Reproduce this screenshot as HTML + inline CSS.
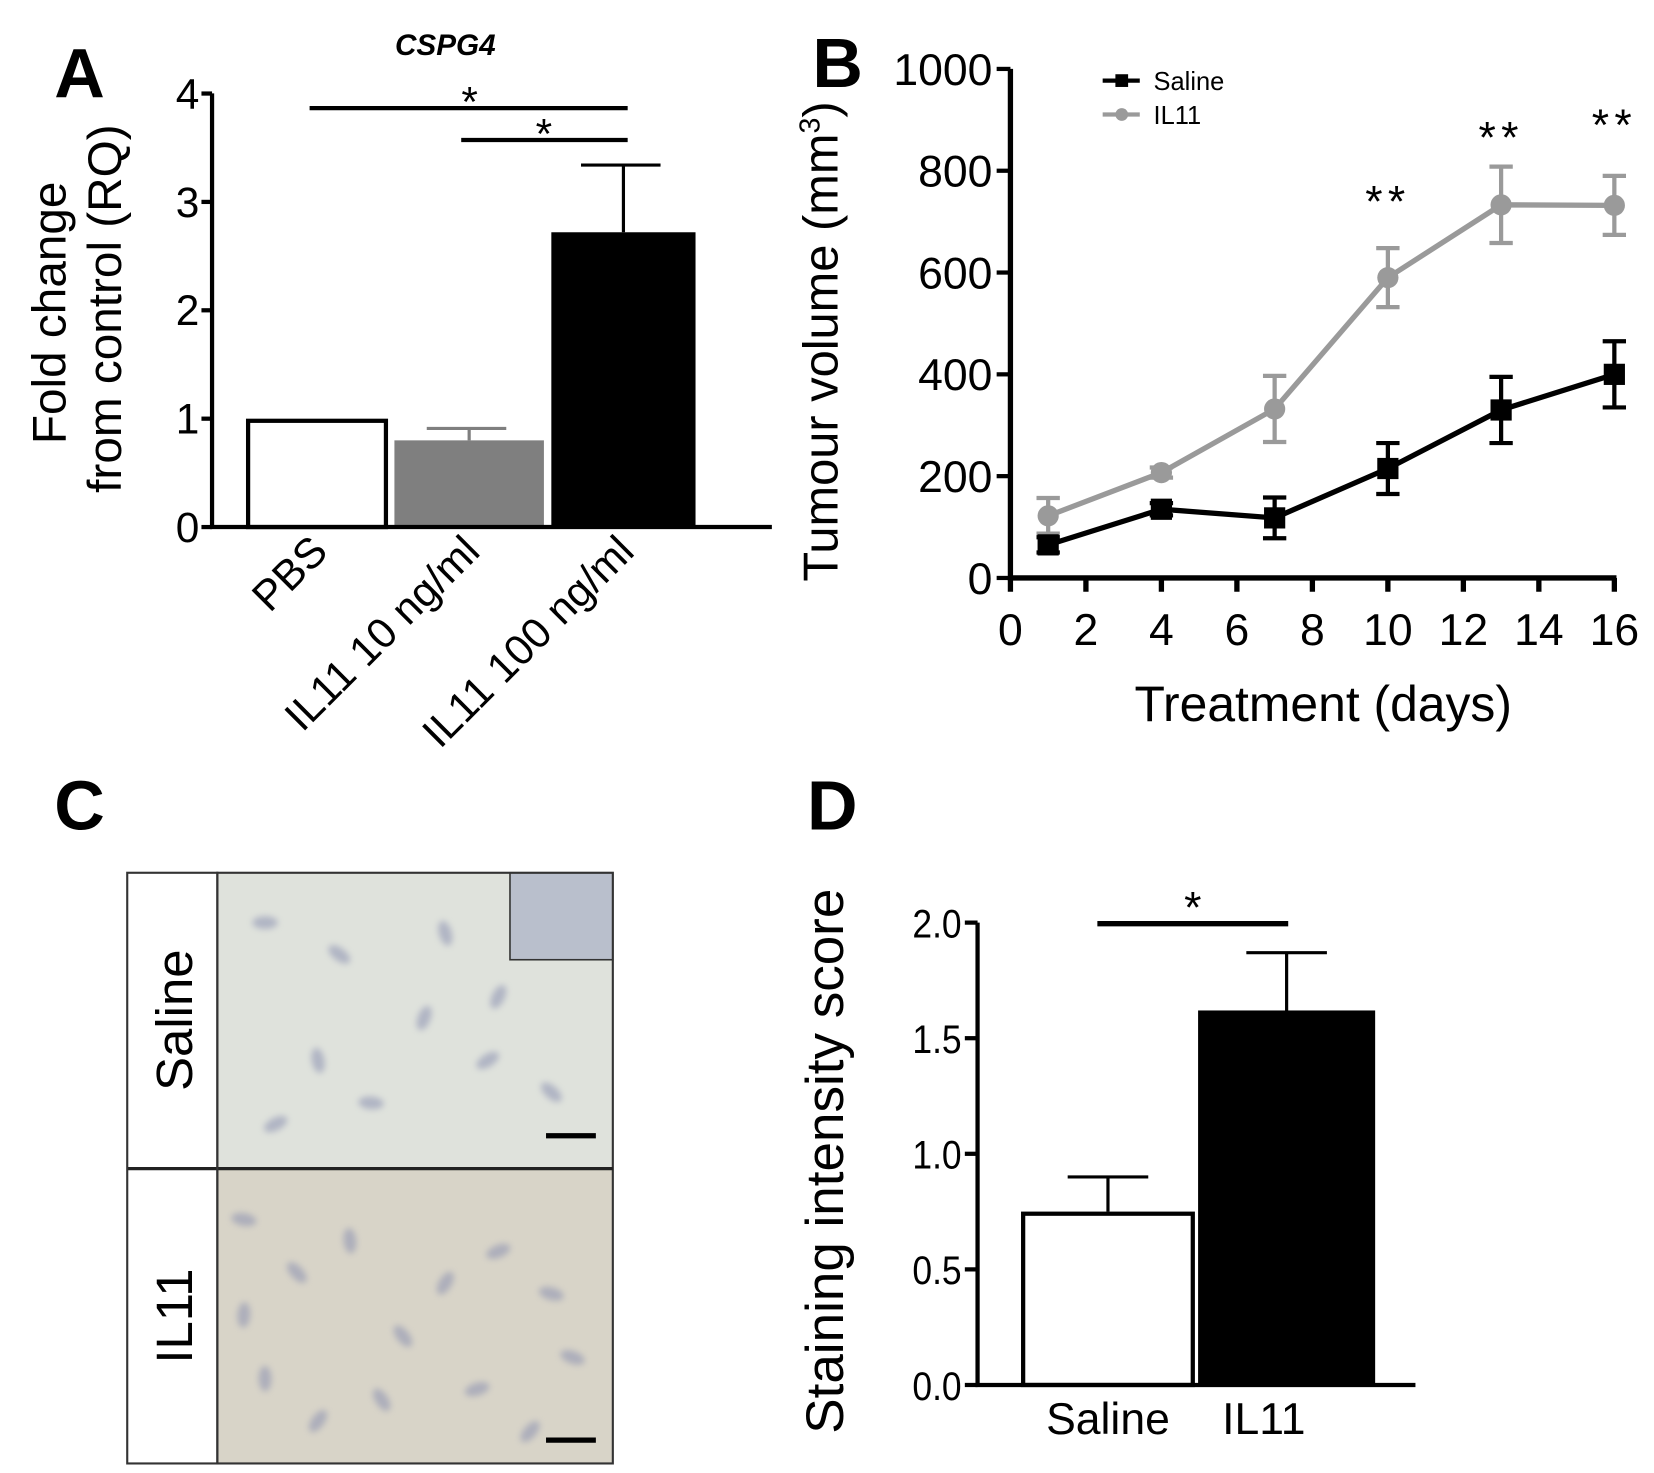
<!DOCTYPE html>
<html><head><meta charset="utf-8">
<style>
html,body{margin:0;padding:0;background:#fff;}
svg{display:block;font-family:"Liberation Sans",Arial,sans-serif;}
</style></head>
<body>
<svg id="fig" width="1654" height="1473" viewBox="0 0 1560 1389" preserveAspectRatio="none">
<defs>
<filter id="blur1"><feGaussianBlur stdDeviation="3"/></filter>
</defs>
<g id="panelA"></g>
<g id="panelB"></g>
<g id="panelC"></g>
<g id="panelD"></g>
</svg>
<script>
// Panel A data
const aCategories = ["PBS", "IL11 10 ng/ml", "IL11 100 ng/ml"];
const aValues = [1.0, 0.80, 2.72];
const aErrors = [0, 0.11, 0.62];
const aTicks = [0, 1, 2, 3, 4];
// Panel B data
const bDays = [1, 4, 7, 10, 13, 16];
const bSaline = [65, 135, 118, 215, 330, 400];
const bSalineErr = [15, 12, 40, 50, 65, 65];
const bIL11 = [122, 207, 332, 590, 733, 732];
const bIL11Err = [35, 10, 65, 58, 75, 58];
const bYTicks = [0, 200, 400, 600, 800, 1000];
const bXTicks = [0, 2, 4, 6, 8, 10, 12, 14, 16];
const bStarDays = [10, 13, 16];
const bStarY = [180, 120, 108];
// Panel D data
const dCategories = ["Saline", "IL11"];
const dValues = [0.75, 1.62];
const dErrors = [0.15, 0.25];
const dTicks = ["0.0", "0.5", "1.0", "1.5", "2.0"];

const NS = "http://www.w3.org/2000/svg";
function mk(parent, tag, attrs, text) {
  const e = document.createElementNS(NS, tag);
  for (const k in attrs) e.setAttribute(k, attrs[k]);
  if (text !== undefined) e.textContent = text;
  parent.appendChild(e);
  return e;
}

// ---------- Panel A ----------
(function(){
  const g = document.getElementById('panelA');
  const y = v => 497 - v * 102.2;
  let t;
  t = mk(g, 'text', {x: 75, y: 92, 'font-size': 66, 'font-weight': 'bold', 'text-anchor': 'middle'}, 'A');
   
  t = mk(g, 'text', {x: 420, y: 52, 'font-size': 28, 'font-weight': 'bold', 'font-style': 'italic', 'text-anchor': 'middle'}, 'CSPG4');
   
  t = mk(g, 'text', {transform: 'translate(62,295) rotate(-90)', 'font-size': 45, 'text-anchor': 'middle'}, 'Fold change');
   
  t = mk(g, 'text', {transform: 'translate(114,291) rotate(-90)', 'font-size': 45, 'text-anchor': 'middle'}, 'from control (RQ)');
   
  const barX = [232, 372, 520], barW = [134, 141, 136];
  const fills = ['#fff', '#7f7f7f', '#000'];
  aValues.forEach((v, i) => {
    const top = y(v);
    const r = mk(g, 'rect', {x: barX[i] + (i===0?2:0), y: top + (i===0?2:0), width: barW[i] - (i===0?4:0), height: 497 - top - (i===0?2:0), fill: fills[i], stroke: i===0?'#000':'none', 'stroke-width': 4});
     
    if (aErrors[i] > 0) {
      const cx = barX[i] + barW[i] / 2, ey = y(v + aErrors[i]);
      const col = i === 1 ? '#7f7f7f' : '#000';
      const e = mk(g, 'path', {d: `M${cx},${top} V${ey} M${cx-40},${ey} H${cx+35}`, stroke: col, 'stroke-width': 3, fill: 'none'});
       
    }
    const lx = barX[i] + barW[i] / 2 + 12;
    const lab = mk(g, 'text', {transform: `translate(${lx},522) rotate(-45)`, 'font-size': 40, 'text-anchor': 'end'}, aCategories[i]);
     
  });
  const ax = mk(g, 'path', {d: 'M200,88 V497 H728', stroke: '#000', 'stroke-width': 4, fill: 'none'});
   
  aTicks.forEach(v => {
    mk(g, 'line', {x1: 190, x2: 200, y1: y(v), y2: y(v), stroke: '#000', 'stroke-width': 4});
    const tl = mk(g, 'text', {x: 188, y: y(v) + 14, 'font-size': 40, 'text-anchor': 'end'}, String(v));
     
  });
  const s1 = mk(g, 'path', {d: 'M292,102 H592 M435,132 H592', stroke: '#000', 'stroke-width': 4});
   
  t = mk(g, 'text', {x: 443, y: 110, 'font-size': 40, 'text-anchor': 'middle'}, '*');
   
  t = mk(g, 'text', {x: 513, y: 140, 'font-size': 40, 'text-anchor': 'middle'}, '*');
   
})();

// ---------- Panel B ----------
(function(){
  const g = document.getElementById('panelB');
  const x = d => 953 + d * 35.6;
  const y = v => 545 - v * 0.48;
  let t;
  t = mk(g, 'text', {x: 790, y: 82, 'font-size': 66, 'font-weight': 'bold', 'text-anchor': 'middle'}, 'B');
   
  t = mk(g, 'text', {transform: 'translate(790,322) rotate(-90)', 'font-size': 46, 'text-anchor': 'middle'});
   
  t.innerHTML = 'Tumour volume (mm<tspan dy="-17" font-size="27">3</tspan><tspan dy="17">)</tspan>';
  t = mk(g, 'text', {x: 1248, y: 680, 'font-size': 47, 'text-anchor': 'middle'}, 'Treatment (days)');
   
  const ax = mk(g, 'path', {d: `M${x(0)},${y(1000)} V545 H${x(16)+2}`, stroke: '#000', 'stroke-width': 5, fill: 'none'});
   
  bYTicks.forEach(v => {
    mk(g, 'line', {x1: 940, x2: 953, y1: y(v), y2: y(v), stroke: '#000', 'stroke-width': 4});
    const tl = mk(g, 'text', {x: 936, y: y(v) + 15, 'font-size': 42, 'text-anchor': 'end'}, String(v));
     
  });
  bXTicks.forEach(d => {
    mk(g, 'line', {x1: x(d), x2: x(d), y1: 545, y2: 558, stroke: '#000', 'stroke-width': 5});
    const tl = mk(g, 'text', {x: x(d), y: 608, 'font-size': 42, 'text-anchor': 'middle'}, String(d));
     
  });
  function series(vals, errs, col, marker, name) {
    const sg = mk(g, 'g', {});
     
    vals.forEach((v, i) => {
      const cx = x(bDays[i]);
      const e = mk(sg, 'path', {d: `M${cx},${y(v+errs[i])} V${y(v-errs[i])} M${cx-11},${y(v+errs[i])} H${cx+11} M${cx-11},${y(v-errs[i])} H${cx+11}`, stroke: col, 'stroke-width': 4, fill: 'none'});
       
    });
    const l = mk(sg, 'polyline', {points: vals.map((v, i) => x(bDays[i]) + ',' + y(v)).join(' '), stroke: col, 'stroke-width': 5, fill: 'none'});
     
    vals.forEach((v, i) => {
      const cx = x(bDays[i]), cy = y(v);
      let m;
      if (marker === 'sq') m = mk(sg, 'rect', {x: cx - 10, y: cy - 10, width: 20, height: 20, fill: col});
      else m = mk(sg, 'circle', {cx: cx, cy: cy, r: 10, fill: col});
       
    });
  }
  series(bIL11, bIL11Err, '#9a9a9a', 'ci', 'il11');
  series(bSaline, bSalineErr, '#000', 'sq', 'saline');
  bStarDays.forEach((d, i) => {
    const s = mk(g, 'text', {x: x(d), y: bStarY[i] + 24, 'font-size': 42, 'text-anchor': 'middle', 'letter-spacing': 5}, '**');
     
  });
  const lg = mk(g, 'g', {});
   
  mk(lg, 'line', {x1: 1040, x2: 1075, y1: 76, y2: 76, stroke: '#000', 'stroke-width': 4});
  mk(lg, 'rect', {x: 1052, y: 70, width: 12, height: 12, fill: '#000'});
  t = mk(lg, 'text', {x: 1088, y: 85, 'font-size': 24}, 'Saline');
   
  mk(lg, 'line', {x1: 1040, x2: 1075, y1: 108, y2: 108, stroke: '#9a9a9a', 'stroke-width': 4});
  mk(lg, 'circle', {cx: 1058, cy: 108, r: 6, fill: '#9a9a9a'});
  t = mk(lg, 'text', {x: 1088, y: 117, 'font-size': 24}, 'IL11');
   
})();

// ---------- Panel C ----------
(function(){
  const g = document.getElementById('panelC');
  let t = mk(g, 'text', {x: 75, y: 782, 'font-size': 66, 'font-weight': 'bold', 'text-anchor': 'middle'}, 'C');
   
  const r1 = mk(g, 'rect', {x: 205, y: 823, width: 373, height: 279, fill: '#dfe2dc'});
   
  const r2 = mk(g, 'rect', {x: 205, y: 1102, width: 373, height: 278, fill: '#d8d4c8'});
   
  const tex = mk(g, 'g', {filter: 'url(#blur1)', opacity: 0.55});
  const spots = [[250,870],[320,900],[420,880],[400,960],[460,1000],[350,1040],[520,1030],[300,1000],[470,940],[260,1060],
    [230,1150],[280,1200],[330,1170],[420,1210],[470,1180],[520,1220],[380,1260],[250,1300],[300,1340],[450,1310],[540,1280],[360,1320],[230,1240],[500,1350]];
  spots.forEach((p, i) => mk(tex, 'ellipse', {cx: p[0], cy: p[1], rx: 12, ry: 6, fill: '#8a90b0', transform: `rotate(${(i*37)%180} ${p[0]} ${p[1]})`}));
  const ins = mk(g, 'rect', {x: 481, y: 823, width: 97, height: 82, fill: '#b9bfcc', stroke: '#333', 'stroke-width': 1.5});
   
  mk(g, 'rect', {x: 205, y: 823, width: 373, height: 557, fill: 'none', stroke: '#333', 'stroke-width': 2});
  mk(g, 'line', {x1: 120, x2: 578, y1: 1102, y2: 1102, stroke: '#222', 'stroke-width': 3});
  mk(g, 'rect', {x: 120, y: 823, width: 85, height: 557, fill: 'none', stroke: '#333', 'stroke-width': 2});
  const sb = mk(g, 'path', {d: 'M515,1071 H562 M515,1358 H562', stroke: '#000', 'stroke-width': 5});
   
  t = mk(g, 'text', {transform: 'translate(181,962) rotate(-90)', 'font-size': 48, 'text-anchor': 'middle'}, 'Saline');
   
  t = mk(g, 'text', {transform: 'translate(181,1241) rotate(-90)', 'font-size': 48, 'text-anchor': 'middle'}, 'IL11');
   
})();

// ---------- Panel D ----------
(function(){
  const g = document.getElementById('panelD');
  const y = v => 1306 - v * 218;
  let t = mk(g, 'text', {x: 785, y: 782, 'font-size': 66, 'font-weight': 'bold', 'text-anchor': 'middle'}, 'D');
   
  t = mk(g, 'text', {transform: 'translate(795,1095) rotate(-90)', 'font-size': 50, 'text-anchor': 'middle'}, 'Staining intensity score');
   
  const barX = [963, 1130], barW = [164, 167];
  dValues.forEach((v, i) => {
    const top = y(v);
    const r = mk(g, 'rect', {x: barX[i] + (i===0?2:0), y: top + (i===0?2:0), width: barW[i] - (i===0?4:0), height: 1306 - top - (i===0?2:0), fill: i===0?'#fff':'#000', stroke: i===0?'#000':'none', 'stroke-width': 4});
     
    const cx = barX[i] + barW[i] / 2, ey = y(v + dErrors[i]);
    const e = mk(g, 'path', {d: `M${cx},${top} V${ey} M${cx-38},${ey} H${cx+38}`, stroke: '#000', 'stroke-width': 3, fill: 'none'});
     
    const l = mk(g, 'text', {x: i===0 ? 1045 : 1192, y: 1352, 'font-size': 42, 'text-anchor': 'middle'}, dCategories[i]);
     
  });
  const ax = mk(g, 'path', {d: 'M922,870 V1306 H1335', stroke: '#000', 'stroke-width': 4, fill: 'none'});
   
  dTicks.forEach(s => {
    const v = parseFloat(s);
    mk(g, 'line', {x1: 910, x2: 922, y1: y(v), y2: y(v), stroke: '#000', 'stroke-width': 4});
    const tl = mk(g, 'text', {x: 907, y: y(v) + 14, 'font-size': 38, 'text-anchor': 'end', transform: `translate(${907*0.12},0) scale(0.88,1)`}, s);
     
  });
  const sl = mk(g, 'line', {x1: 1035, x2: 1215, y1: 871, y2: 871, stroke: '#000', 'stroke-width': 5});
   
  t = mk(g, 'text', {x: 1125, y: 870, 'font-size': 42, 'text-anchor': 'middle'}, '*');
   
})();
</script>
</body></html>
